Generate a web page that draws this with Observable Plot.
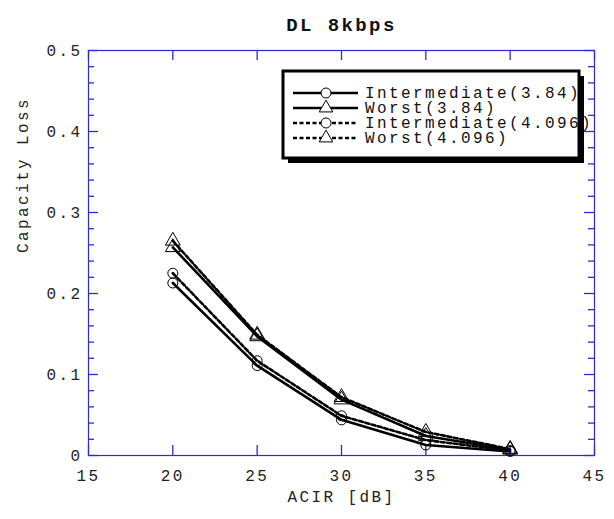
<!DOCTYPE html>
<html><head><meta charset="utf-8">
<script src="https://cdn.jsdelivr.net/npm/d3@7"></script>
<script src="https://cdn.jsdelivr.net/npm/@observablehq/plot@0.6"></script>
<style>body{margin:0;background:#fff}</style>
</head><body><div id="chart"></div>
<script>
const acir = [20, 25, 30, 35, 40];
const intermediate384 = [0.213, 0.111, 0.044, 0.013, 0.005];
const worst384 = [0.257, 0.147, 0.069, 0.024, 0.007];
const intermediate4096 = [0.225, 0.117, 0.049, 0.019, 0.006];
const worst4096 = [0.265, 0.149, 0.072, 0.029, 0.008];
const seriesNames = ["Intermediate(3.84)", "Worst(3.84)", "Intermediate(4.096)", "Worst(4.096)"];
const xTicks = [15, 20, 25, 30, 35, 40, 45];
const yTicks = [0, 0.1, 0.2, 0.3, 0.4, 0.5];
const yMinor = d3.range(0, 26).map(i => i * 0.02).filter(v => Math.round(v * 100) % 10 !== 0);
const title = "DL 8kbps";
const xLabel = "ACIR [dB]";
const yLabel = "Capacity Loss";

const series = [
  {name: seriesNames[0], values: intermediate384, dash: null, symbol: "circle"},
  {name: seriesNames[1], values: worst384, dash: null, symbol: "triangle"},
  {name: seriesNames[2], values: intermediate4096, dash: "4,2.5", symbol: "circle"},
  {name: seriesNames[3], values: worst4096, dash: "4,2.5", symbol: "triangle"}
];
const rows = series.flatMap(s => acir.map((a, i) => ({series: s.name, x: a, y: s.values[i]})));

const W = 614, H = 519, mL = 88, mR = 20, mT = 50, mB = 64;
const xDom = [15, 45], yDom = [0, 0.5];
// tick lengths converted from pixels into data units
const xPerPx = (xDom[1] - xDom[0]) / (W - mL - mR);
const yPerPx = (yDom[1] - yDom[0]) / (H - mT - mB);
const blue = "#2b2bdd";
const marks = [
  Plot.ruleX(xTicks, {x: d => d, y1: yDom[0], y2: yDom[0] + 10 * yPerPx, stroke: blue, strokeWidth: 1.3}),
  Plot.ruleX(xTicks, {x: d => d, y1: yDom[1], y2: yDom[1] - 10 * yPerPx, stroke: blue, strokeWidth: 1.3}),
  Plot.ruleY(yTicks, {y: d => d, x1: xDom[0], x2: xDom[0] + 10 * xPerPx, stroke: blue, strokeWidth: 1.3}),
  Plot.ruleY(yTicks, {y: d => d, x1: xDom[1], x2: xDom[1] - 10 * xPerPx, stroke: blue, strokeWidth: 1.3}),
  Plot.ruleY(yMinor, {y: d => d, x1: xDom[0], x2: xDom[0] + 6 * xPerPx, stroke: blue, strokeWidth: 1.3}),
  Plot.ruleY(yMinor, {y: d => d, x1: xDom[1], x2: xDom[1] - 6 * xPerPx, stroke: blue, strokeWidth: 1.3}),
  Plot.frame({stroke: blue, strokeWidth: 1.2}),
  Plot.axisX({anchor: "bottom", ticks: xTicks, tickSize: 0, tickPadding: 14, tickFormat: d => String(d), label: null, fill: "#222"}),
  Plot.axisY({anchor: "left", ticks: yTicks, tickSize: 0, tickPadding: 6, tickFormat: d => d === 0 ? "0" : d3.format(".1f")(d), label: null, fill: "#222"})
];
series.forEach(s => {
  const d = rows.filter(r => r.series === s.name);
  marks.push(Plot.line(d, {x: "x", y: "y", stroke: "black", strokeWidth: 2.6, strokeDasharray: s.dash}));
  marks.push(Plot.dot(d, {x: "x", y: "y", symbol: s.symbol, r: s.symbol === "circle" ? 5 : 5.5, stroke: "black", fill: "none", strokeWidth: 1}));
});
marks.push(Plot.text([title], {frameAnchor: "top", dy: -33, text: d => d, fontWeight: "bold", fontSize: 19, fill: "#111"}));
marks.push(Plot.text([xLabel], {frameAnchor: "bottom", dy: 46, text: d => d, fill: "#222"}));
marks.push(Plot.text([yLabel], {frameAnchor: "left", dx: -66, rotate: -90, text: d => d, fill: "#222"}));

const svg = Plot.plot({
  width: W, height: H,
  marginLeft: mL, marginRight: mR, marginTop: mT, marginBottom: mB,
  x: {domain: xDom},
  y: {domain: yDom},
  style: {fontFamily: "'Liberation Mono', 'DejaVu Sans Mono', monospace", fontSize: "16px", letterSpacing: "2.4px", background: "#fff", overflow: "visible"},
  marks
});
document.getElementById("chart").appendChild(svg);

// legend
const g = d3.select(svg).append("g");
const bx = 283, by = 71, bw = 296, bh = 87;
g.append("rect").attr("x", bx + 5).attr("y", by + 5).attr("width", bw).attr("height", bh).attr("fill", "black");
g.append("rect").attr("x", bx).attr("y", by).attr("width", bw).attr("height", bh).attr("fill", "white");
const rowY = [93, 108, 123, 138];
series.forEach((s, i) => {
  const y = rowY[i];
  g.append("line").attr("x1", 293).attr("x2", 358).attr("y1", y).attr("y2", y)
    .attr("stroke", "black").attr("stroke-width", 2.6).attr("stroke-dasharray", s.dash);
  g.append("path").attr("transform", `translate(326,${y})`)
    .attr("d", d3.symbol(s.symbol === "circle" ? d3.symbolCircle : d3.symbolTriangle, s.symbol === "circle" ? Math.PI * 25 : 80)())
    .attr("fill", "white").attr("stroke", "black").attr("stroke-width", 1);
  g.append("text").attr("x", 365).attr("y", y + 5).attr("text-anchor", "start").attr("fill", "#111").text(s.name);
});
g.append("rect").attr("x", bx).attr("y", by).attr("width", bw).attr("height", bh).attr("fill", "none").attr("stroke", "black").attr("stroke-width", 3);
</script></body></html>
